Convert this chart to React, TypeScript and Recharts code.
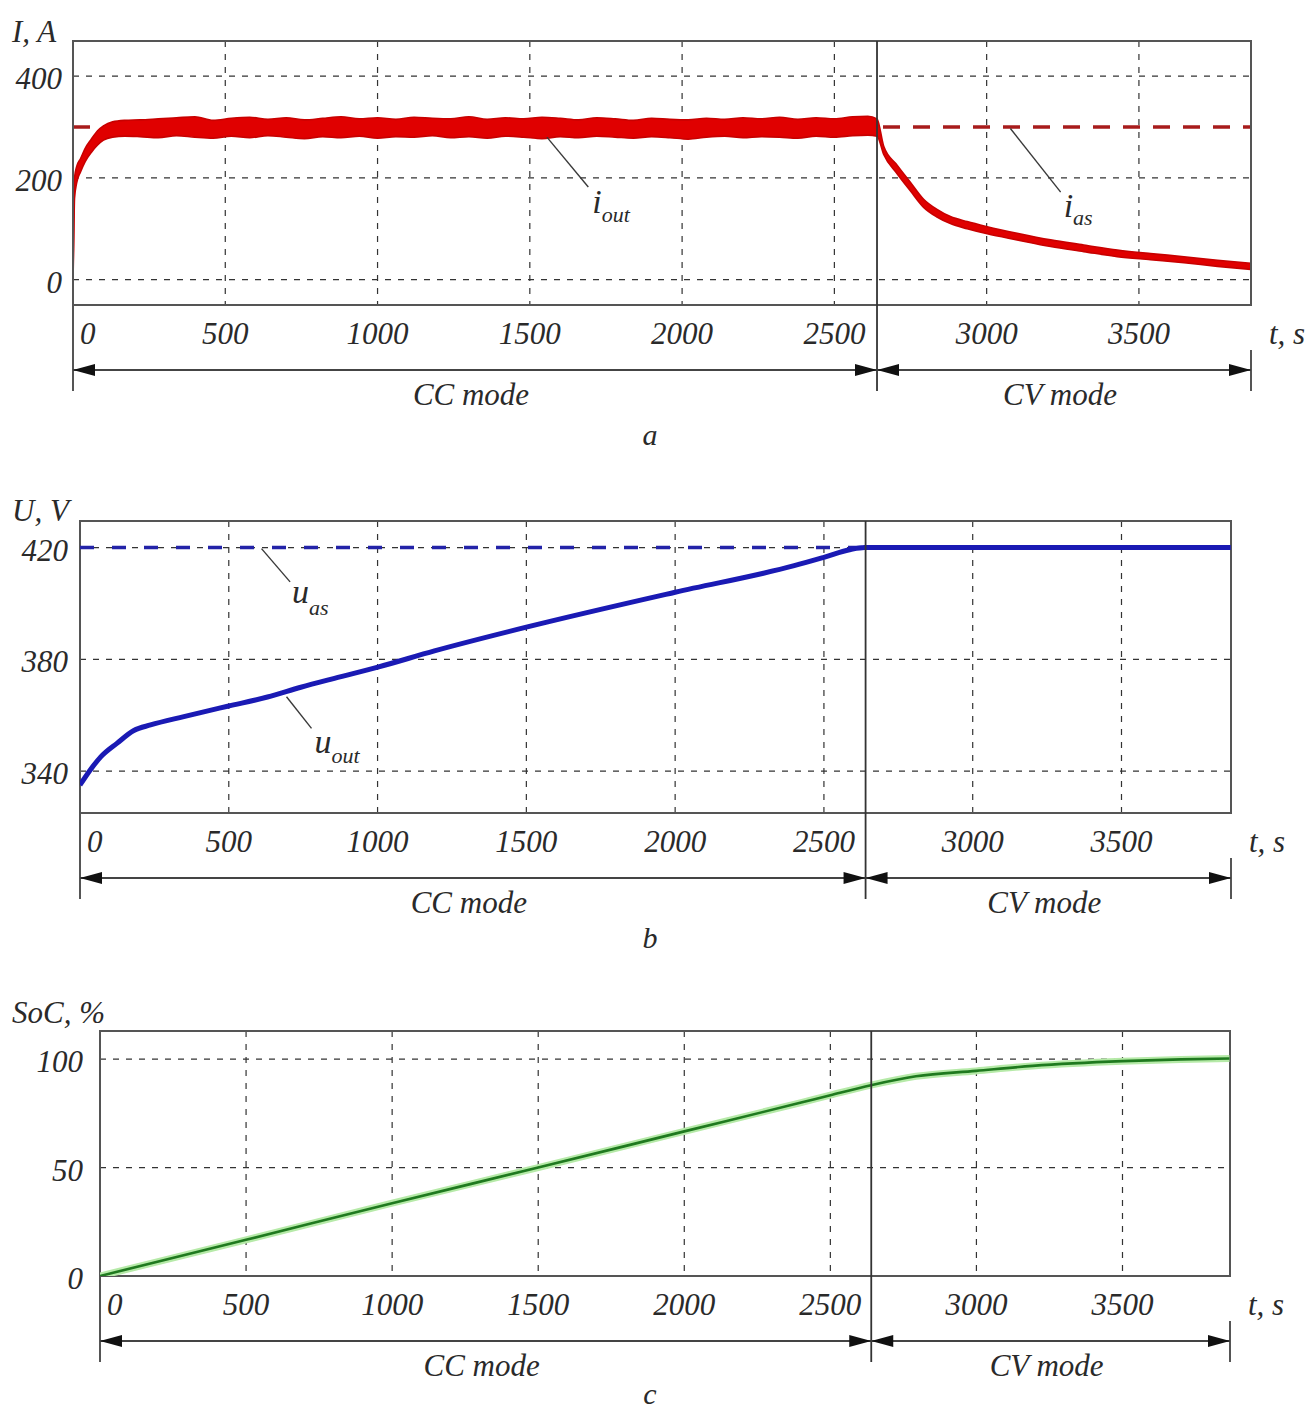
import React from "react";
import {
  ComposedChart,
  Line,
  Area,
  XAxis,
  YAxis,
  CartesianGrid,
  ReferenceLine,
  ReferenceArea,
} from "recharts";

const SERIF = "'Liberation Serif', 'Times New Roman', serif";
const TEXT = "#2a2a2a";
const FRAME = "#555";

// time axis shared by all three panels
const T_END = 3868;
const T_SPLIT = 2640;
const T_TICKS = [0, 500, 1000, 1500, 2000, 2500, 3000, 3500];

// a: output current (band = ripple envelope lo/hi)
const I_TICKS = [0, 200, 400];
const I_DOMAIN = [-50, 469];
const I_AS = 300;
const iOut = [
  { t: 0, band: [0, 0] },
  { t: 2, band: [60, 110] },
  { t: 5, band: [160, 200] },
  { t: 12, band: [190, 222] },
  { t: 25, band: [212, 238] },
  { t: 40, band: [232, 258] },
  { t: 60, band: [250, 276] },
  { t: 80, band: [264, 292] },
  { t: 100, band: [274, 302] },
  { t: 130, band: [280, 310] },
  { t: 170, band: [282, 313] },
  { t: 220, band: [281, 314] },
  { t: 280, band: [279, 316] },
  { t: 340, band: [283, 318] },
  { t: 400, band: [280, 320] },
  { t: 460, band: [278, 313] },
  { t: 520, band: [282, 317] },
  { t: 580, band: [279, 319] },
  { t: 640, band: [283, 315] },
  { t: 700, band: [280, 318] },
  { t: 760, band: [277, 314] },
  { t: 820, band: [281, 317] },
  { t: 880, band: [279, 320] },
  { t: 940, band: [282, 316] },
  { t: 1000, band: [278, 318] },
  { t: 1060, band: [281, 315] },
  { t: 1120, band: [280, 319] },
  { t: 1180, band: [283, 317] },
  { t: 1240, band: [279, 316] },
  { t: 1300, band: [281, 320] },
  { t: 1360, band: [278, 315] },
  { t: 1420, band: [282, 318] },
  { t: 1480, band: [280, 316] },
  { t: 1540, band: [277, 319] },
  { t: 1600, band: [281, 317] },
  { t: 1660, band: [279, 314] },
  { t: 1720, band: [282, 318] },
  { t: 1780, band: [280, 316] },
  { t: 1840, band: [278, 313] },
  { t: 1900, band: [281, 317] },
  { t: 1960, band: [279, 315] },
  { t: 2020, band: [276, 314] },
  { t: 2080, band: [280, 317] },
  { t: 2140, band: [282, 315] },
  { t: 2200, band: [279, 318] },
  { t: 2260, band: [281, 316] },
  { t: 2320, band: [280, 319] },
  { t: 2380, band: [278, 315] },
  { t: 2440, band: [282, 318] },
  { t: 2500, band: [280, 316] },
  { t: 2560, band: [283, 320] },
  { t: 2610, band: [284, 321] },
  { t: 2640, band: [282, 316] },
  { t: 2662, band: [246, 262] },
  { t: 2706, band: [208, 225] },
  { t: 2750, band: [174, 191] },
  { t: 2793, band: [142, 158] },
  { t: 2837, band: [123, 138] },
  { t: 2881, band: [110, 124] },
  { t: 2936, band: [100, 114] },
  { t: 3002, band: [90, 104] },
  { t: 3100, band: [78, 91] },
  { t: 3210, band: [65, 78] },
  { t: 3319, band: [55, 68] },
  { t: 3429, band: [45, 58] },
  { t: 3538, band: [39, 51] },
  { t: 3648, band: [33, 45] },
  { t: 3758, band: [26, 38] },
  { t: 3867, band: [20, 32] },
];
// the set-point is constant, so it rides along in the same table
const currentTable = iOut.map((r) => ({ ...r, as: I_AS }));

// b: output voltage
const U_TICKS = [340, 380, 420];
const U_DOMAIN = [325, 429.5];
const U_AS = 420;
const uOut = [
  { t: 0, v: 335 },
  { t: 35, v: 340.5 },
  { t: 69, v: 345 },
  { t: 125, v: 350 },
  { t: 181, v: 354.5 },
  { t: 237, v: 356.5 },
  { t: 349, v: 359.5 },
  { t: 496, v: 363.2 },
  { t: 630, v: 366.5 },
  { t: 742, v: 370 },
  { t: 855, v: 373.2 },
  { t: 1001, v: 377.2 },
  { t: 1191, v: 383 },
  { t: 1500, v: 391.5 },
  { t: 2000, v: 404 },
  { t: 2400, v: 413.5 },
  { t: 2500, v: 416.5 },
  { t: 2590, v: 419.3 },
  { t: 2637, v: 420 },
  { t: 3000, v: 420 },
  { t: 3867, v: 420 },
];
const uAs = [
  { t: 0, v: U_AS },
  { t: T_END, v: U_AS },
];

// c: state of charge
const SOC_TICKS = [0, 50, 100];
const SOC_DOMAIN = [0, 113];
const soc = [
  { t: 0, v: 0 },
  { t: 500, v: 16.7 },
  { t: 1000, v: 33.6 },
  { t: 1500, v: 50 },
  { t: 2000, v: 66.7 },
  { t: 2400, v: 80 },
  { t: 2500, v: 83.4 },
  { t: 2639, v: 88 },
  { t: 2793, v: 92.1 },
  { t: 2999, v: 94.6 },
  { t: 3192, v: 96.9 },
  { t: 3500, v: 99.1 },
  { t: 3700, v: 99.9 },
  { t: 3866, v: 100.3 },
];

const italic = {
  fontFamily: SERIF,
  fontStyle: "italic" as const,
  fill: TEXT,
};

const XTick = (props: any) => {
  const { x, y, payload } = props;
  const first = payload.value === 0;
  return (
    <text
      x={first ? x + 7 : x}
      y={y + 39}
      textAnchor={first ? "start" : "middle"}
      fontSize={31}
      {...italic}
    >
      {payload.value}
    </text>
  );
};

const YTick = (props: any) => {
  const { x, y, payload } = props;
  return (
    <text x={x} y={y + 13} textAnchor="end" fontSize={31} {...italic}>
      {payload.value}
    </text>
  );
};

const top = (p: any) => Math.min(p.y1, p.y2);
const bottom = (p: any) => Math.max(p.y1, p.y2);

// left edge: extension below the frame, axis title and caption
const leftEdge = (title: string, titleDy: number, caption: string, captionDy: number) => (p: any) => (
  <g>
    <line x1={p.x1} y1={bottom(p)} x2={p.x1} y2={bottom(p) + 86} stroke={FRAME} strokeWidth={2} />
    <text x={12} y={top(p) + titleDy} fontSize={31} {...italic}>
      {title}
    </text>
    <text x={650} y={bottom(p) + captionDy} textAnchor="middle" fontSize={30} {...italic}>
      {caption}
    </text>
  </g>
);

const splitLine = (p: any) => (
  <line x1={p.x1} y1={top(p)} x2={p.x1} y2={bottom(p) + 86} stroke="#333" strokeWidth={1.8} />
);

const rightEdge = (p: any) => (
  <g>
    <line x1={p.x1} y1={bottom(p) + 45} x2={p.x1} y2={bottom(p) + 86} stroke={FRAME} strokeWidth={2} />
    <text x={p.x1 + 18} y={bottom(p) + 39} fontSize={31} {...italic}>
      t, s
    </text>
  </g>
);

const modeArrow = (label: string) => (p: any) => {
  const xa = Math.min(p.x1, p.x2);
  const xb = Math.max(p.x1, p.x2);
  const y = bottom(p) + 65;
  return (
    <g>
      <line x1={xa} y1={y} x2={xb} y2={y} stroke="#444" strokeWidth={2.2} />
      <polygon points={`${xa},${y} ${xa + 22},${y - 6} ${xa + 22},${y + 6}`} fill="#111" />
      <polygon points={`${xb},${y} ${xb - 22},${y - 6} ${xb - 22},${y + 6}`} fill="#111" />
      <text x={(xa + xb) / 2 - 4} y={y + 35} textAnchor="middle" fontSize={31} {...italic}>
        {label}
      </text>
    </g>
  );
};

const leader =
  (main: string, sub: string, dx: number, dy: number, subDy: number) => (p: any) =>
    (
      <g>
        <line x1={p.x1} y1={p.y1} x2={p.x2} y2={p.y2} stroke="#3a3a3a" strokeWidth={1.4} />
        <text x={p.x2 + dx} y={p.y2 + dy} fontSize={34} {...italic}>
          {main}
          <tspan fontSize={22} dy={subDy}>
            {sub}
          </tspan>
        </text>
      </g>
    );

const frameParts = (
  yDomain: number[],
  title: string,
  titleDy: number,
  caption: string,
  captionDy: number
) => [
  <ReferenceArea
    key="frame"
    x1={0}
    x2={T_END}
    y1={yDomain[0]}
    y2={yDomain[1]}
    fill="none"
    stroke={FRAME}
    strokeWidth={2}
    ifOverflow="visible"
  />,
  <ReferenceLine
    key="left"
    x={0}
    ifOverflow="visible"
    shape={leftEdge(title, titleDy, caption, captionDy)}
  />,
  <ReferenceLine key="split" x={T_SPLIT} ifOverflow="visible" shape={splitLine} />,
  <ReferenceLine key="right" x={T_END} ifOverflow="visible" shape={rightEdge} />,
  <ReferenceLine
    key="cc"
    segment={[
      { x: 0, y: yDomain[0] },
      { x: T_SPLIT, y: yDomain[0] },
    ]}
    ifOverflow="visible"
    shape={modeArrow("CC mode")}
  />,
  <ReferenceLine
    key="cv"
    segment={[
      { x: T_SPLIT, y: yDomain[0] },
      { x: T_END, y: yDomain[0] },
    ]}
    ifOverflow="visible"
    shape={modeArrow("CV mode")}
  />,
];

const axes = (yDomain: number[], yTicks: number[], yWidth: number, yMargin: number) => [
  <CartesianGrid key="grid" stroke="#333" strokeWidth={1.2} strokeDasharray="6 7" />,
  <XAxis
    key="x"
    type="number"
    dataKey="t"
    domain={[0, T_END]}
    ticks={T_TICKS}
    interval={0}
    allowDataOverflow
    height={50}
    axisLine={false}
    tickLine={false}
    tickSize={0}
    tickMargin={0}
    tick={<XTick />}
  />,
  <YAxis
    key="y"
    type="number"
    domain={yDomain}
    ticks={yTicks}
    interval={0}
    allowDataOverflow
    width={yWidth}
    axisLine={false}
    tickLine={false}
    tickSize={0}
    tickMargin={yMargin}
    tick={<YTick />}
  />,
];

const App = () => {
  return (
    <div
      style={{
        position: "absolute",
        left: 0,
        top: 0,
        width: 1309,
        height: 1410,
        background: "#fff",
      }}
    >
      {/* a: current */}
      <div style={{ position: "absolute", left: 0, top: 0 }}>
        <ComposedChart
          width={1309}
          height={460}
          data={currentTable}
          margin={{ top: 41, right: 58, bottom: 105, left: 0 }}
        >
          {axes(I_DOMAIN, I_TICKS, 73, 11)}
          <Area
            dataKey="as"
            type="linear"
            fill="none"
            stroke="#a81c1c"
            strokeWidth={3.5}
            strokeDasharray="17 13"
            isAnimationActive={false}
          />
          <Area
            dataKey="band"
            type="monotone"
            fill="#e00000"
            fillOpacity={1}
            stroke="#c80000"
            strokeWidth={1.6}
            isAnimationActive={false}
          />
          {frameParts(I_DOMAIN, "I, A", 1, "a", 140)}
          <ReferenceLine
            segment={[
              { x: 1556, y: 280 },
              { x: 1692, y: 182 },
            ]}
            ifOverflow="visible"
            shape={leader("i", "out", 4, 26, 9)}
          />
          <ReferenceLine
            segment={[
              { x: 3078, y: 297 },
              { x: 3243, y: 172 },
            ]}
            ifOverflow="visible"
            shape={leader("i", "as", 3, 25, 8)}
          />
        </ComposedChart>
      </div>

      {/* b: voltage */}
      <div style={{ position: "absolute", left: 0, top: 460 }}>
        <ComposedChart
          width={1309}
          height={500}
          margin={{ top: 61, right: 78, bottom: 97, left: 0 }}
        >
          {axes(U_DOMAIN, U_TICKS, 80, 12)}
          <Line
            data={uAs}
            dataKey="v"
            type="linear"
            stroke="#2323a8"
            strokeWidth={3.5}
            strokeDasharray="14 18"
            dot={false}
            isAnimationActive={false}
          />
          <Line
            data={uOut}
            dataKey="v"
            type="monotone"
            stroke="#1a1ab4"
            strokeWidth={5}
            dot={false}
            isAnimationActive={false}
          />
          {frameParts(U_DOMAIN, "U, V", 0, "b", 135)}
          <ReferenceLine
            segment={[
              { x: 610, y: 419.6 },
              { x: 706, y: 407.7 },
            ]}
            ifOverflow="visible"
            shape={leader("u", "as", 2, 21, 12)}
          />
          <ReferenceLine
            segment={[
              { x: 694, y: 366.6 },
              { x: 778, y: 355.3 },
            ]}
            ifOverflow="visible"
            shape={leader("u", "out", 3, 25, 10)}
          />
        </ComposedChart>
      </div>

      {/* c: state of charge */}
      <div style={{ position: "absolute", left: 0, top: 950 }}>
        <ComposedChart
          width={1309}
          height={460}
          margin={{ top: 81, right: 79, bottom: 84, left: 0 }}
        >
          {axes(SOC_DOMAIN, SOC_TICKS, 100, 17)}
          <Line
            data={soc}
            dataKey="v"
            type="monotone"
            stroke="#b6eaa8"
            strokeWidth={7}
            dot={false}
            isAnimationActive={false}
          />
          <Line
            data={soc}
            dataKey="v"
            type="monotone"
            stroke="#1f7a1f"
            strokeWidth={2.6}
            dot={false}
            isAnimationActive={false}
          />
          {frameParts(SOC_DOMAIN, "SoC, %", -8, "c", 128)}
        </ComposedChart>
      </div>
    </div>
  );
};

export default App;
